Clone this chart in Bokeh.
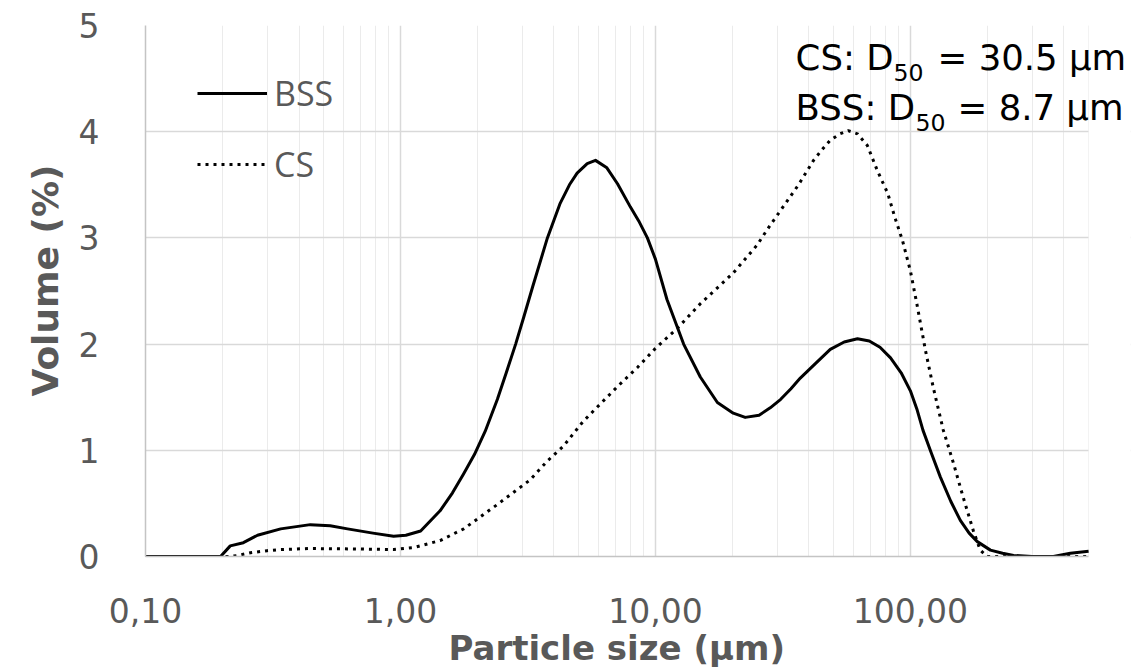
from bokeh.plotting import figure
from bokeh.models import (FixedTicker, CustomJSTickFormatter, Legend, LegendItem, Label,
                          BoxAnnotation, Title)
from bokeh.embed import file_html
from bokeh.resources import INLINE

# ---------------- data ----------------
particle_size_bss = [0.10, 0.197, 0.215, 0.242, 0.275, 0.339, 0.443, 0.53, 0.62, 0.78, 0.94, 1.05,
                     1.2, 1.43, 1.6, 1.77, 1.95, 2.15, 2.4, 2.6, 2.83, 3.05, 3.3, 3.77, 4.22, 4.6,
                     4.93, 5.4, 5.82, 6.45, 7.1, 7.98, 8.6, 9.3, 10.0, 11.1, 12.9, 15.0, 17.5, 20.2,
                     22.5, 25.5, 28.2, 31.0, 34.0, 37.0, 41.7, 48.5, 55.0, 62.0, 69.0, 76.0, 83.6,
                     92.0, 100.0, 106.0, 112.0, 121.0, 131.0, 144.0, 157.0, 170.0, 183.0, 206.0,
                     230.0, 254.0, 300.0, 364.0, 424.0, 500.0]
volume_bss = [0.0, 0.0, 0.10, 0.13, 0.20, 0.26, 0.30, 0.29, 0.26, 0.22, 0.19, 0.20,
              0.24, 0.43, 0.60, 0.78, 0.96, 1.18, 1.48, 1.73, 2.00, 2.26, 2.54, 3.00, 3.32, 3.50,
              3.61, 3.70, 3.73, 3.66, 3.51, 3.29, 3.16, 3.00, 2.80, 2.42, 2.00, 1.69, 1.45, 1.35,
              1.31, 1.33, 1.40, 1.48, 1.58, 1.68, 1.80, 1.95, 2.02, 2.05, 2.03, 1.97, 1.87,
              1.73, 1.56, 1.39, 1.19, 0.97, 0.75, 0.52, 0.34, 0.22, 0.14, 0.06,
              0.03, 0.01, 0.0, 0.0, 0.03, 0.05]

particle_size_cs = [0.10, 0.215, 0.23, 0.258, 0.30, 0.339, 0.443, 0.6, 0.8, 0.94, 1.13, 1.43, 1.77,
                    2.4, 3.22, 3.77, 4.36, 5.2, 5.93, 7.1, 8.5, 10.0, 12.2, 15.0, 17.5, 20.2, 25.0,
                    28.2, 31.0, 36.4, 41.7, 45.0, 48.5, 53.0, 57.0, 62.0, 67.8, 74.3, 81.5, 87.0,
                    93.0, 100.0, 106.0, 114.6, 123.0, 134.6, 147.5, 161.0, 176.7, 188.0,
                    200.0, 250.0, 500.0]
volume_cs = [0.0, 0.0, 0.01, 0.035, 0.055, 0.066, 0.075, 0.072, 0.068, 0.066, 0.085, 0.15, 0.26,
             0.49, 0.72, 0.90, 1.04, 1.27, 1.41, 1.60, 1.78, 1.96, 2.15, 2.38, 2.53, 2.67, 2.93,
             3.12, 3.26, 3.50, 3.73, 3.83, 3.92, 3.98, 4.01, 3.98, 3.87, 3.63, 3.42, 3.19,
             2.98, 2.69, 2.38, 1.94, 1.59, 1.19, 0.88, 0.56, 0.24, 0.06,
             0.0, 0.0, 0.0]

x_data_limits = [0.1, 500]
y_range_limits = [0, 5]
x_view_end = 730          # frame extends a little to the right so the annotation is not clipped
x_tick_values = [0.1, 1, 10, 100]
x_tick_labels = ["0,10", "1,00", "10,00", "100,00"]
x_minor_values = [0.2, 0.3, 0.4, 0.5, 0.6, 0.7, 0.8, 0.9,
                  2, 3, 4, 5, 6, 7, 8, 9,
                  20, 30, 40, 50, 60, 70, 80, 90,
                  200, 300, 400, 500]
y_tick_values = [0, 1, 2, 3, 4, 5]
series_names = ["BSS", "CS"]
x_title = "Particle size (µm)"
y_title = "Volume (%)"
annotation_lines = [("CS: D", "50", "= 30.5 µm"), ("BSS: D", "50", "= 8.7 µm")]

TICK_FONT = "DejaVu Sans"
GREY = "#595959"

p = figure(width=1136, height=672, x_axis_type="log",
           x_range=(x_data_limits[0], x_view_end), y_range=tuple(y_range_limits),
           output_backend="svg", toolbar_location=None,
           min_border_left=145, min_border_right=6, min_border_top=25, min_border_bottom=116)
p.outline_line_color = None
p.background_fill_color = "white"
p.border_fill_color = "white"

r_bss = p.line(particle_size_bss, volume_bss, line_color="black", line_width=3, line_join="round")
r_cs = p.line(particle_size_cs, volume_cs, line_color="black", line_width=3, line_dash="3 5")

# white mask to the right of the data area (hides grid lines beyond 500)
p.add_layout(BoxAnnotation(left=x_data_limits[1], fill_color="white", fill_alpha=1.0,
                           line_alpha=0, level="underlay"))

xt = FixedTicker(ticks=x_tick_values, minor_ticks=x_minor_values)
yt = FixedTicker(ticks=y_tick_values)
p.xaxis.ticker = xt
p.xgrid.ticker = xt
p.yaxis.ticker = yt
p.ygrid.ticker = yt
p.xaxis.bounds = tuple(x_data_limits)

p.xaxis.formatter = CustomJSTickFormatter(
    args=dict(tv=x_tick_values, tl=x_tick_labels),
    code="const i = tv.indexOf(tick); return i >= 0 ? tl[i] : String(tick);")

p.xgrid.grid_line_color = "#d9d9d9"
p.xgrid.minor_grid_line_color = "#ebebeb"
p.ygrid.grid_line_color = "#d9d9d9"
p.xgrid.grid_line_width = 1.5
p.ygrid.grid_line_width = 1.5

for ax in (p.xaxis[0], p.yaxis[0]):
    ax.axis_line_color = "#c4c4c4"
    ax.axis_line_width = 1.5
    ax.major_tick_line_color = None
    ax.minor_tick_line_color = None
    ax.major_label_text_font = TICK_FONT
    ax.major_label_text_font_size = "33px"
    ax.major_label_text_color = GREY

p.xaxis.major_label_standoff = 35
p.yaxis.major_label_standoff = 40

# axis titles as Title objects so they can be placed like the original
title_style = dict(text_font=TICK_FONT, text_font_style="bold", text_color=GREY, align="left")
p.add_layout(Title(text=x_title, text_font_size="34px", offset=303, standoff=0, **title_style),
             "below")
p.add_layout(Title(text=y_title, text_font_size="36px", offset=160, standoff=20, **title_style),
             "left")

legend = Legend(items=[LegendItem(label=series_names[0], renderers=[r_bss]),
                       LegendItem(label=series_names[1], renderers=[r_cs])],
                location=(52, 366), glyph_width=70, glyph_height=52, label_height=52,
                spacing=19, padding=0, margin=0, label_standoff=7,
                label_text_font="Open Sans", label_text_font_size="34px",
                label_text_color=GREY, border_line_color=None, background_fill_alpha=0)
p.add_layout(legend)

# annotation (anchored at the top-right corner of the data area)
offsets = [(-293, -32, -195, -47, -151), (-293, -82, -173, -97, -131)]
for (main, sub, rest), (xo, yo, sxo, syo, rxo) in zip(annotation_lines, offsets):
    common = dict(x=x_data_limits[1], y=y_range_limits[1], text_font="DejaVu Sans",
                  text_color="black", text_baseline="alphabetic", text_align="left")
    p.add_layout(Label(text=main, x_offset=xo, y_offset=yo, text_font_size="35.5px", **common))
    p.add_layout(Label(text=sub, x_offset=sxo, y_offset=syo, text_font_size="23.6px", **common))
    p.add_layout(Label(text=rest, x_offset=rxo, y_offset=yo, text_font_size="35.5px", **common))

open("out.html", "w").write(file_html(p, INLINE))
